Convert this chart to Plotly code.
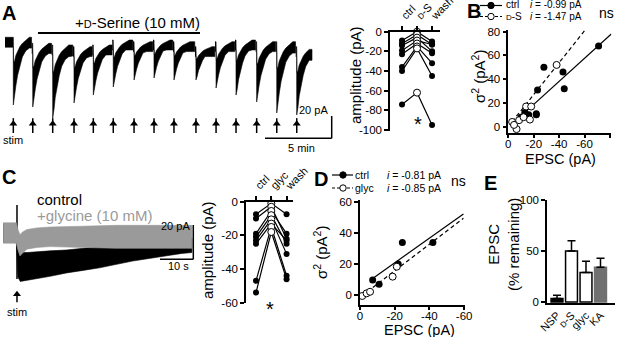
import plotly.graph_objects as go

W, H = 617, 337
FONT = "Liberation Sans, Arial, Helvetica, sans-serif"
GRAY = "#9a9a9a"
KA_GRAY = "#707070"


def X(px):
    return px / W


def Y(py):
    return 1 - py / H


# ============================ DATA ============================
# --- Panel A: example recording (time in min, current in pA) ---
a_stim_min = [0.77, 2.22, 3.71, 5.30, 6.74, 8.23, 9.78, 11.27, 12.76, 14.40, 15.90, 17.39, 18.93, 20.43, 21.92]
a_peak_pA = [-54.5, -56.4, -66.4, -52.7, -45.5, -38.2, -31.8, -30.0, -31.8, -31.8, -39.1, -45.5, -51.8, -61.8, -63.6]
a_plateau_pA = [7.0, 1.5, 0.0, -1.5, 0.0, 4.5, 3.0, 4.5, 3.0, -1.5, 3.0, 4.5, 3.0, 3.0, -1.5]
a_rec_start_min = 0.15
a_rec_end_min = 23.06
a_noise_pA = 9.0
a_dser_on_min = 2.61
a_dser_off_min = 14.70
a_dser_level_pA = 10.9
a_arrow_tip_pA = -69.5
a_arrow_tail_pA = -80.0
# shape of one sweep: time after stim (min), fraction of peak depth
a_prof_dt_min = [0.0, 0.022, 0.097, 0.187, 0.321, 0.485, 0.672, 0.933, 1.194, 1.418]
a_prof_upper = [0.0, 0.38, 0.35, 0.27, 0.20, 0.14, 0.09, 0.04, 0.0, 0.0]
a_prof_lower = [1.0, 0.95, 0.88, 0.72, 0.56, 0.42, 0.29, 0.20, 0.16, 0.15]

# --- Panel A: amplitudes per cell ---
a_amp_cats = ["ctrl", "<span style='font-size:8px'>D</span>-S", "wash"]
a_amp_ctrl = [-9, -12, -14, -19, -23, -36, -40, -74]
a_amp_ds = [0, -3, -6, -9, -12, -15, -17, -62]
a_amp_wash = [-10, -13, -20, -13, -22, -32, -45, -95]

# --- Panel B: variance vs mean ---
b_ctrl_I = [-71, -28, -43, -44, -23, -22, -22, -16, -13, -14, -10]
b_ctrl_var = [68, 50, 46, 32, 31, 11, 10, 10, 12, 10, 8]
b_ds_I = [-38, -14, -18, -17, -3, -6.5, -4.5, -8.5, -12]
b_ds_var = [52, 17, 17, 6, 4, -2, 1.5, 5.5, 8]
b_fit_ctrl_I = [-7.9, -81.0]
b_fit_ctrl_var = [7.0, 78.0]
b_fit_ds_I = [-3.0, -60.5]
b_fit_ds_var = [4.2, 81.5]

# --- Panel C: example traces (time in s from stim, pA from baseline) ---
c_t_black = [-4.2, -0.2, 0.3, 1.0, 3, 6, 10, 15, 20, 25, 30, 35, 40, 45, 50, 53]
c_black_hi = [5.5, 5.5, -9, -11.5, -11.5, -11, -10.5, -10, -9, -8, -7, -6, -5, -4, -3, -3]
c_black_lo = [-5.5, -5.5, -26, -28.5, -28, -27, -25.5, -23.5, -22, -20.5, -18.5, -16.5, -15, -13.3, -12, -11.5]
c_t_gray = [-4.2, -0.2, 0.3, 0.9, 1.6, 3, 6, 10, 20, 30, 40, 50, 53]
c_gray_hi = [6, 6, 2, -1, 0.5, 2, 3, 3.5, 4, 4.5, 4.5, 4.5, 4.5]
c_gray_lo = [-6, -6, -10, -13.5, -12, -9.5, -8.5, -8, -8.5, -9, -9, -9, -9]
c_artifact_pA = [16.5, -27.0]
c_arrow_tip_pA = -34.7
c_arrow_tail_pA = -40.8

# --- Panel C: amplitudes per cell ---
c_amp_cats = ["ctrl", "glyc", "wash"]
c_amp_ctrl = [-7.5, -10, -19, -21, -23, -25, -47, -54]
c_amp_glyc = [-1, -3, -5.5, -8, -10.5, -13, -15, -18]
c_amp_wash = [-7.5, -22, -19, -25, -31, -23, -44, -46]

# --- Panel D: variance vs mean ---
d_ctrl_I = [-7.3, -11, -24.4, -42, -22]
d_ctrl_var = [9.6, 6.9, 33.8, 33.8, 19.9]
d_glyc_I = [-1.3, -3.8, -5.8, -18.8, -21.2]
d_glyc_var = [-0.6, 1.1, 2.1, 11.8, 18.2]
d_fit_ctrl_I = [-7.3, -59.6]
d_fit_ctrl_var = [10.7, 52.0]
d_fit_glyc_I = [-1.0, -59.6]
d_fit_glyc_var = [-0.6, 49.3]

# --- Panel E: summary ---
e_labels = ["NSP", "<span style='font-size:8px'>D</span>-S", "glyc", "KA"]
e_values = [3.5, 50, 29, 34]
e_errors = [3, 10, 11, 9]
e_fill = ["black", "white", "white", KA_GRAY]
e_edge = ["black", "black", "black", KA_GRAY]

# ============================ FIGURE ============================
fig = go.Figure()


def add(tr, ax):
    tr.update(xaxis="x" + ("" if ax == 1 else str(ax)), yaxis="y" + ("" if ax == 1 else str(ax)))
    fig.add_trace(tr)


# ---- A trace sweeps ----
n = len(a_stim_min)
for i, s in enumerate(a_stim_min):
    start = a_rec_start_min if i == 0 else s - 0.075
    end = a_stim_min[i + 1] - 0.09 if i < n - 1 else a_rec_end_min
    T = a_plateau_pA[i]
    P = a_peak_pA[i]
    D = T - P
    ux, uy = [start, s], [T, T]
    lx, ly = [start, s - 0.004], [T - a_noise_pA, T - a_noise_pA]
    for dt, fu, fl in zip(a_prof_dt_min, a_prof_upper, a_prof_lower):
        if s + dt > end:
            break
        ux.append(s + dt)
        uy.append(T - fu * D)
        lx.append(s + dt)
        ly.append(T - max(fl * D, a_noise_pA))
    ux.append(end); uy.append(uy[-1])
    lx.append(end); ly.append(ly[-1])
    add(go.Scatter(x=ux + lx[::-1], y=uy + ly[::-1], mode="lines", fill="toself",
                   fillcolor="black", line=dict(color="black", width=0.6),
                   hoverinfo="skip", showlegend=False), 1)

add(go.Scatter(x=[a_dser_on_min, a_dser_off_min], y=[a_dser_level_pA] * 2, mode="lines",
               line=dict(color="black", width=2), showlegend=False), 1)

# stimulus arrows (shafts + heads)
sx, sy = [], []
for s in a_stim_min:
    sx += [s, s, None]
    sy += [a_arrow_tail_pA, a_arrow_tip_pA + 3, None]
add(go.Scatter(x=sx, y=sy, mode="lines", line=dict(color="black", width=1.5), showlegend=False), 1)
add(go.Scatter(x=a_stim_min, y=[a_arrow_tip_pA - 2.2] * n, mode="markers",
               marker=dict(symbol="triangle-up", size=7, color="black"), showlegend=False), 1)

# ---- A amplitudes ----
for c, d_, w in zip(a_amp_ctrl, a_amp_ds, a_amp_wash):
    add(go.Scatter(x=[0, 1, 2], y=[c, d_, w], mode="lines", line=dict(color="black", width=1.2),
                   showlegend=False), 2)
add(go.Scatter(x=[0] * len(a_amp_ctrl) + [2] * len(a_amp_wash), y=a_amp_ctrl + a_amp_wash,
               mode="markers", marker=dict(color="black", size=6), showlegend=False, cliponaxis=False), 2)
add(go.Scatter(x=[1] * len(a_amp_ds), y=a_amp_ds, mode="markers",
               marker=dict(color="white", size=7, line=dict(color="black", width=1)),
               showlegend=False, cliponaxis=False), 2)

# ---- B ----
add(go.Scatter(x=b_fit_ctrl_I, y=b_fit_ctrl_var, mode="lines", line=dict(color="black", width=1.2),
               showlegend=False), 3)
add(go.Scatter(x=b_fit_ds_I, y=b_fit_ds_var, mode="lines",
               line=dict(color="black", width=1.2, dash="4px,3px"), showlegend=False), 3)
add(go.Scatter(x=b_ctrl_I, y=b_ctrl_var, mode="markers", marker=dict(color="black", size=7),
               showlegend=False, cliponaxis=False), 3)
add(go.Scatter(x=b_ds_I, y=b_ds_var, mode="markers",
               marker=dict(color="white", size=7, line=dict(color="black", width=1)),
               showlegend=False, cliponaxis=False), 3)

# ---- C traces ----
add(go.Scatter(x=c_t_black + c_t_black[::-1], y=c_black_hi + c_black_lo[::-1], mode="lines",
               fill="toself", fillcolor="black", line=dict(color="black", width=0.6), showlegend=False), 4)
add(go.Scatter(x=[0, 0], y=c_artifact_pA, mode="lines", line=dict(color="black", width=1.5),
               showlegend=False), 4)
add(go.Scatter(x=c_t_gray + c_t_gray[::-1], y=c_gray_hi + c_gray_lo[::-1], mode="lines",
               fill="toself", fillcolor=GRAY, line=dict(color=GRAY, width=0.6), showlegend=False), 4)
add(go.Scatter(x=[0, 0], y=[c_arrow_tail_pA, c_arrow_tip_pA - 2], mode="lines",
               line=dict(color="black", width=1.5), showlegend=False), 4)
add(go.Scatter(x=[0], y=[c_arrow_tip_pA - 1.4], mode="markers",
               marker=dict(symbol="triangle-up", size=7, color="black"), showlegend=False), 4)

# ---- C amplitudes ----
for c, g, w in zip(c_amp_ctrl, c_amp_glyc, c_amp_wash):
    add(go.Scatter(x=[0, 1, 2], y=[c, g, w], mode="lines", line=dict(color="black", width=1.2),
                   showlegend=False), 5)
add(go.Scatter(x=[0] * len(c_amp_ctrl) + [2] * len(c_amp_wash), y=c_amp_ctrl + c_amp_wash,
               mode="markers", marker=dict(color="black", size=6), showlegend=False, cliponaxis=False), 5)
add(go.Scatter(x=[1] * len(c_amp_glyc), y=c_amp_glyc, mode="markers",
               marker=dict(color="white", size=7, line=dict(color="black", width=1)),
               showlegend=False, cliponaxis=False), 5)

# ---- D ----
add(go.Scatter(x=d_fit_ctrl_I, y=d_fit_ctrl_var, mode="lines", line=dict(color="black", width=1.2),
               showlegend=False), 6)
add(go.Scatter(x=d_fit_glyc_I, y=d_fit_glyc_var, mode="lines",
               line=dict(color="black", width=1.2, dash="4px,3px"), showlegend=False), 6)
add(go.Scatter(x=d_ctrl_I, y=d_ctrl_var, mode="markers", marker=dict(color="black", size=7),
               showlegend=False, cliponaxis=False), 6)
add(go.Scatter(x=d_glyc_I, y=d_glyc_var, mode="markers",
               marker=dict(color="white", size=7, line=dict(color="black", width=1)),
               showlegend=False, cliponaxis=False), 6)

# ---- E ----
add(go.Bar(x=list(range(len(e_values))), y=e_values, width=0.82,
           marker=dict(color=e_fill, line=dict(color=e_edge, width=1.5)),
           error_y=dict(type="data", symmetric=False, array=e_errors, arrayminus=[0] * len(e_errors),
                        color="black", thickness=1.5, width=4),
           showlegend=False), 7)

# ============================ AXES ============================
tickfont = dict(family=FONT, size=11.5, color="black")


def base_axis(**kw):
    d = dict(showline=True, linecolor="black", linewidth=1.5, ticks="outside", ticklen=4,
             tickwidth=1.5, tickcolor="black", showgrid=False, zeroline=False, tickfont=tickfont,
             fixedrange=True, automargin=False)
    d.update(kw)
    return d


def hidden(**kw):
    d = dict(visible=False, showgrid=False, zeroline=False, fixedrange=True, automargin=False)
    d.update(kw)
    return d


def neg_ticks(vals):
    return dict(tickvals=vals, ticktext=[("-" + str(abs(v))) if v < 0 else str(v) for v in vals])


layout = dict(
    template="none",
    width=W, height=H, autosize=False, margin=dict(l=0, r=0, t=0, b=0, pad=0),
    paper_bgcolor="white", plot_bgcolor="rgba(0,0,0,0)",
    font=dict(family=FONT, color="black"), showlegend=False,
    # A trace
    xaxis=hidden(domain=[X(3), X(335)], range=[0, 332 / 13.4], anchor="y"),
    yaxis=hidden(domain=[Y(140), Y(25)], range=[-95 / 1.1, 20 / 1.1], anchor="x"),
    # A amplitude
    xaxis2=base_axis(domain=[X(390), X(440.3)], range=[-0.8, 2.55], anchor="y2", side="top",
                     tickvals=[0, 1, 2], ticktext=a_amp_cats, tickangle=-45,
                     tickfont=dict(family=FONT, size=11, color="black")),
    yaxis2=base_axis(domain=[Y(130.5), Y(31.7)], range=[-100.5, 0], anchor="x2",
                     **neg_ticks([0, -20, -40, -60, -80, -100])),
    # B
    xaxis3=base_axis(domain=[X(508.3), X(611.3)], range=[0, -81], anchor="y3", ticklen=3,
                     ticklabelstandoff=-4, **neg_ticks([0, -20, -40, -60, -80])),
    yaxis3=base_axis(domain=[Y(133.35), Y(29.9)], range=[-5.6, 81.5], anchor="x3",
                     tickvals=[0, 20, 40, 60, 80]),
    # C trace
    xaxis4=hidden(domain=[X(3), X(200)], range=[-4.24, -4.24 + 197 / 3.3], anchor="y4"),
    yaxis4=hidden(domain=[Y(305), Y(195)], range=[-72 / 1.7, 38 / 1.7], anchor="x4"),
    # C amplitude
    xaxis5=base_axis(domain=[X(246), X(293)], range=[-0.654, 2.42], anchor="y5", side="top",
                     tickvals=[0, 1, 2], ticktext=c_amp_cats, tickangle=-45,
                     tickfont=dict(family=FONT, size=11, color="black")),
    yaxis5=base_axis(domain=[Y(302.7), Y(201.7)], range=[-60, 0], anchor="x5",
                     **neg_ticks([0, -20, -40, -60])),
    # D
    xaxis6=base_axis(domain=[X(360), X(465)], range=[0, -60.5], anchor="y6", ticklen=3,
                     ticklabelstandoff=-4, **neg_ticks([0, -20, -40, -60])),
    yaxis6=base_axis(domain=[Y(305), Y(200.1)], range=[-6.4, 61], anchor="x6",
                     tickvals=[0, 20, 40, 60]),
    # E
    xaxis7=base_axis(domain=[X(547), X(615)], range=[-0.69, 4.0], anchor="y7", ticks="",
                     tickvals=list(range(len(e_labels))), ticktext=e_labels, tickangle=-45,
                     tickfont=dict(family=FONT, size=11, color="black")),
    yaxis7=base_axis(domain=[Y(303), Y(200)], range=[-1, 100], anchor="x7",
                     tickvals=[0, 50, 100]),
)
fig.update_layout(**layout)

# ============================ ANNOTATIONS ============================
ann = []


def text(px, py, s, size=12, xanchor="center", yanchor="middle", angle=0, color="black", bold=False):
    if bold:
        s = "<b>" + s + "</b>"
    ann.append(dict(x=X(px), y=Y(py), xref="paper", yref="paper", text=s, showarrow=False,
                    xanchor=xanchor, yanchor=yanchor, textangle=angle, borderpad=0,
                    font=dict(family=FONT, size=size, color=color)))


# panel letters
for lbl, px, py in [("A", 9, 13.5), ("B", 474, 11), ("C", 9, 176.5), ("D", 321, 178.5), ("E", 490, 182.5)]:
    text(px, py, lbl, size=20, bold=True)

# A labels
text(137, 22, "+<span style='font-size:11px'>D</span>-Serine (10 mM)", size=15)
text(13.3, 140, "stim", size=11)
text(329, 110, "20 pA", size=11, xanchor="right")
text(301, 148, "5 min", size=11)
text(355, 75, "amplitude (pA)", size=15, angle=-90)
text(418, 124, "*", size=20)

# B labels
text(478, 77, "σ<sup>2</sup> (pA<sup>2</sup>)", size=15, angle=-90)
text(560, 159, "EPSC (pA)", size=14.5)
text(505, 5, "ctrl", size=10, xanchor="left")
text(505, 17, "<span style='font-size:8px'>D</span>-S", size=10, xanchor="left")
text(529, 5, "<i>i</i> = -0.99 pA", size=10, xanchor="left")
text(529, 17, "<i>i</i> = -1.47 pA", size=10, xanchor="left")
text(606, 13, "ns", size=14)

# C labels
text(36, 199, "control", size=15, xanchor="left")
text(36, 215, "+glycine (10 mM)", size=15, xanchor="left", color=GRAY)
text(191, 226, "20 pA", size=11, xanchor="right")
text(178, 266, "10 s", size=11)
text(17, 312, "stim", size=11)
text(207, 250, "amplitude (pA)", size=15, angle=-90)
text(270, 309, "*", size=20)

# D labels
text(320, 253, "σ<sup>2</sup> (pA<sup>2</sup>)", size=15, angle=-90)
text(419, 329.5, "EPSC (pA)", size=14.5)
text(354, 175, "ctrl", size=10.5, xanchor="left")
text(354, 188, "glyc", size=10.5, xanchor="left")
text(386, 175, "<i>i</i> = -0.81 pA", size=10.5, xanchor="left")
text(386, 188, "<i>i</i> = -0.85 pA", size=10.5, xanchor="left")
text(458, 181, "ns", size=14)

# E labels
text(503, 245, "EPSC<br>(% remaining)", size=15, angle=-90)

fig.update_layout(annotations=ann)

# ============================ SHAPES (scale bars, legend keys) ============================
shapes = []


def seg(x0, y0, x1, y1, width=1.5, dash=None):
    ln = dict(color="black", width=width)
    if dash:
        ln["dash"] = dash
    shapes.append(dict(type="line", xref="paper", yref="paper", x0=X(x0), y0=Y(y0), x1=X(x1), y1=Y(y1),
                       line=ln))


def circ(cx, cy, r, filled):
    shapes.append(dict(type="circle", xref="paper", yref="paper", x0=X(cx - r), x1=X(cx + r),
                       y0=Y(cy + r), y1=Y(cy - r), fillcolor="black" if filled else "white",
                       line=dict(color="black", width=1)))


# A scale bar
seg(331.7, 116, 331.7, 138.3)
seg(265, 138.3, 331.7, 138.3)
# C scale bar
seg(193.3, 225, 193.3, 259.3)
seg(160, 259.3, 193.3, 259.3)
# B legend keys
seg(480, 5.5, 502, 5.5, width=1.2)
circ(491, 5.5, 3.2, True)
seg(480, 16.5, 502, 16.5, width=1.2, dash="3px,2px")
circ(491, 16.5, 3.2, False)
# D legend keys
seg(332, 175, 353, 175, width=1.2)
circ(343, 175, 3.2, True)
seg(332, 188, 353, 188, width=1.2, dash="3px,2px")
circ(343, 188, 3.2, False)

fig.update_layout(shapes=shapes)

fig.write_html("out.html", config={"displayModeBar": False},
               post_script="document.body.style.margin='0';document.body.style.overflow='hidden';")
